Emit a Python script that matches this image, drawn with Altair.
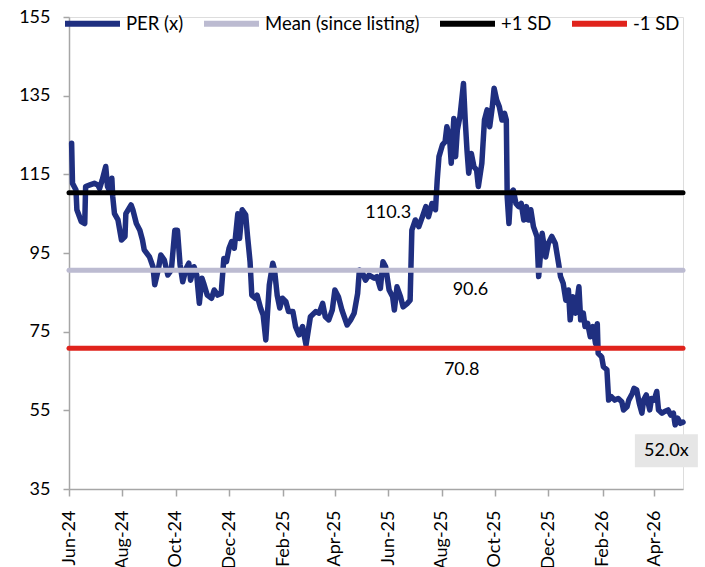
import altair as alt
import pandas as pd

# ---------------- data ----------------
start_date = "2024-06-01"
days = [3, 4, 8, 9, 12, 14, 18, 19, 24, 29,
        33, 35, 38, 42, 44, 46, 49, 50, 52, 56,
        60, 64, 65, 71, 73, 77, 81, 84, 86, 92,
        96, 98, 102, 105, 109, 113, 117, 121, 124, 127,
        130, 134, 137, 139, 143, 146, 149, 152, 154, 158,
        163, 166, 170, 174, 177, 180, 183, 186, 189, 193,
        195, 198, 202, 204, 207, 209, 213, 215, 219, 222,
        225, 229, 233, 235, 238, 241, 244, 248, 251, 256,
        259, 263, 267, 271, 276, 282, 286, 290, 293, 297,
        301, 304, 308, 312, 318, 322, 326, 330, 332, 335,
        339, 343, 349, 352, 356, 359, 362, 366, 370, 372,
        375, 379, 382, 387, 390, 392, 396, 400, 404, 408,
        411, 415, 419, 421, 423, 427, 430, 432, 435, 437,
        440, 442, 444, 447, 451, 453, 455, 457, 460, 463,
        466, 468, 472, 475, 478, 481, 484, 486, 489, 492,
        495, 498, 500, 501, 503, 505, 508, 511, 514, 517,
        520, 523, 525, 528, 531, 535, 537, 541, 545, 548,
        552, 556, 560, 562, 565, 568, 571, 573, 576, 579,
        583, 585, 588, 590, 593, 596, 599, 602, 604, 605,
        609, 611, 615, 617, 620, 624, 628, 632, 634, 638,
        640, 644, 646, 649, 652, 655, 657, 660, 664, 666,
        669, 672, 674, 678, 681, 685, 688, 691, 693, 696,
        699, 702]
per = [122.9, 112.7, 111.0, 106.0, 104.2, 103.0, 102.5, 111.9, 112.3, 112.7,
       112.3, 111.4, 113.6, 117.0, 111.9, 111.0, 114.0, 109.3, 105.0, 103.4,
       98.3, 99.2, 105.0, 107.2, 106.0, 102.5, 100.8, 98.3, 95.8, 94.0,
       91.5, 86.9, 90.7, 94.5, 93.2, 89.4, 90.7, 100.8, 100.8, 92.0,
       87.7, 91.1, 92.4, 88.1, 91.5, 89.4, 82.2, 88.6, 87.3, 84.3,
       83.5, 85.6, 84.3, 84.7, 93.6, 92.8, 96.2, 97.9, 96.2, 105.0,
       98.7, 106.0, 104.7, 99.6, 92.8, 84.3, 83.5, 84.3, 81.0, 79.2,
       72.9, 86.9, 92.4, 90.7, 84.3, 81.0, 83.5, 82.6, 80.1, 80.1,
       76.3, 74.2, 76.3, 71.6, 78.8, 80.1, 79.7, 82.2, 78.8, 78.0,
       80.5, 85.6, 83.9, 80.5, 76.7, 78.0, 79.7, 84.7, 90.7, 90.2,
       88.1, 89.4, 88.6, 89.0, 86.0, 92.8, 91.5, 85.6, 83.9, 80.5,
       86.4, 83.9, 81.3, 82.2, 83.0, 100.8, 103.4, 101.7, 104.2, 106.8,
       104.2, 107.6, 106.0, 113.6, 119.5, 122.5, 123.3, 127.1, 124.6, 117.8,
       129.2, 119.5, 126.3, 129.7, 138.1, 128.8, 121.2, 115.3, 120.3, 116.9,
       116.1, 111.9, 117.8, 128.8, 131.4, 127.1, 132.2, 136.9, 133.9, 132.2,
       128.8, 130.5, 128.8, 109.3, 102.5, 110.2, 111.0, 107.6, 106.8, 107.6,
       103.4, 106.8, 103.4, 106.0, 101.7, 99.2, 89.0, 100.0, 94.0, 97.4,
       99.2, 97.4, 92.0, 89.0, 87.3, 83.0, 85.6, 78.0, 83.9, 79.7,
       86.4, 78.0, 79.7, 76.3, 77.1, 73.7, 76.3, 72.0, 77.0, 69.5,
       68.6, 66.1, 65.3, 57.6, 58.5, 57.6, 58.0, 57.2, 55.1, 55.9,
       57.6, 59.3, 60.6, 60.2, 56.8, 54.3, 57.6, 58.9, 55.1, 58.0,
       57.6, 59.8, 55.1, 54.3, 54.7, 55.1, 53.8, 54.3, 51.3, 53.0,
       51.7, 52.0]

series_names = ["PER (x)", "Mean (since listing)", "+1 SD", "-1 SD"]
series_colors = ["#1f2f80", "#bcbbd1", "#000000", "#e0231c"]

ref_names = ["Mean (since listing)", "+1 SD", "-1 SD"]
ref_values = [90.6, 110.3, 70.8]

label_text = ["110.3", "90.6", "70.8"]
label_dates = ["2025-06-01", "2025-09-03", "2025-08-24"]
label_values = [105.2, 85.6, 65.2]

last_text = ["52.0x"]
last_date = ["2026-04-15"]
last_value = [44.7]

tick_dates = ["2024-06-01", "2024-08-01", "2024-10-01", "2024-12-01",
              "2025-02-01", "2025-04-01", "2025-06-01", "2025-08-01",
              "2025-10-01", "2025-12-01", "2026-02-01", "2026-04-01"]
x_domain = ["2024-06-01", "2026-05-04"]
y_ticks = [35, 55, 75, 95, 115, 135, 155]

# ---------------- frames ----------------
base = pd.Timestamp(start_date)
dates = (base + pd.to_timedelta(days, unit="D")).strftime("%Y-%m-%d")
per_df = pd.DataFrame({"date": dates, "value": per, "series": "PER (x)"})
ref_df = pd.DataFrame({"series": ref_names, "value": ref_values})
lab_df = pd.DataFrame({"date": label_dates, "value": label_values, "text": label_text})
last_df = pd.DataFrame({"date": last_date, "value": last_value, "text": last_text})


def to_ms(s):
    return int(pd.Timestamp(s, tz="UTC").value // 10**6)


FONT = "Lato"
x_scale = alt.Scale(type="utc", domain=[to_ms(d) for d in x_domain])
y_scale = alt.Scale(domain=[35, 155], nice=False, zero=False)

x_axis = alt.Axis(values=[to_ms(d) for d in tick_dates], format="%b-%y", labelAngle=-90,
                  grid=False, domainColor="#a6a6a6", tickColor="#a6a6a6", domainWidth=1.5,
                  tickWidth=1.5, tickSize=7, labelPadding=14, labelFontSize=18,
                  labelFont=FONT, labelColor="#000000", title=None, labelFlush=False)
y_axis = alt.Axis(values=y_ticks, grid=False, domainColor="#a6a6a6", tickColor="#a6a6a6",
                  domainWidth=1.5, tickWidth=1.5, tickSize=6, labelPadding=13,
                  labelFontSize=18, labelFont=FONT, labelColor="#000000", title=None)

color = alt.Color("series:N",
                  scale=alt.Scale(domain=series_names, range=series_colors),
                  legend=alt.Legend(title=None, orient="none", legendX=-7, legendY=-24,
                                    direction="horizontal", symbolType="stroke",
                                    symbolSize=3025, symbolStrokeWidth=6,
                                    labelFontSize=18.5, labelFont=FONT, labelColor="#000000",
                                    labelOffset=3, columnPadding=8, padding=0))

line = alt.Chart(per_df).mark_line(strokeWidth=5.5, strokeJoin="round", strokeCap="round").encode(
    x=alt.X("date:T", scale=x_scale, axis=x_axis),
    y=alt.Y("value:Q", scale=y_scale, axis=y_axis),
    color=color,
)

rules = alt.Chart(ref_df).mark_rule(strokeWidth=5, strokeCap="round").encode(
    y=alt.Y("value:Q", scale=y_scale),
    color=color,
)

labels = alt.Chart(lab_df).mark_text(font=FONT, fontSize=18, color="#000000").encode(
    x=alt.X("date:T", scale=x_scale),
    y=alt.Y("value:Q", scale=y_scale),
    text="text:N",
)

box = alt.Chart(last_df).mark_point(shape="M-1,-0.524L1,-0.524L1,0.524L-1,0.524Z",
                                    size=3969, filled=True, color="#e6e6e6", opacity=1,
                                    strokeWidth=0).encode(
    x=alt.X("date:T", scale=x_scale),
    y=alt.Y("value:Q", scale=y_scale),
)

box_text = alt.Chart(last_df).mark_text(font=FONT, fontSize=18, color="#000000").encode(
    x=alt.X("date:T", scale=x_scale),
    y=alt.Y("value:Q", scale=y_scale),
    text="text:N",
)

chart = alt.layer(line, rules, labels, box, box_text).properties(
    width=614, height=472,
    autosize=alt.AutoSizeParams(type="none"),
    padding={"left": 69, "top": 17, "right": 22, "bottom": 78},
).configure_view(stroke=None).configure(background="white")

chart.save("out.html", embed_options={"renderer": "svg", "actions": False})
